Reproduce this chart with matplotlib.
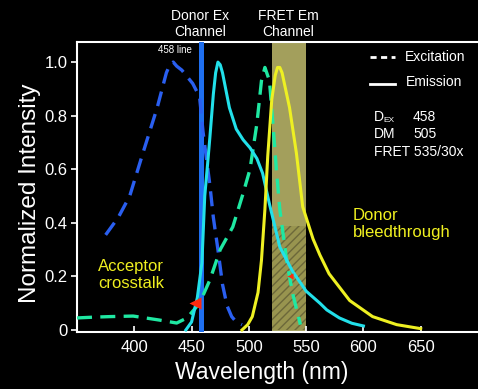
import matplotlib
matplotlib.use("Agg")
import matplotlib.pyplot as plt
from matplotlib.patches import Rectangle
from matplotlib.lines import Line2D

plt.rcParams['font.family'] = ['Liberation Sans', 'DejaVu Sans']

# Donor (CFP-like) excitation, dashed blue
donor_ex_nm = [375, 386, 396, 407.5, 420, 428, 431, 434, 437, 441.5, 451, 457, 460, 463, 466, 469, 473, 477, 481, 485, 489, 494]
donor_ex_val = [0.355, 0.42, 0.50, 0.66, 0.83, 0.96, 0.99, 1.0, 0.985, 0.97, 0.92, 0.87, 0.74, 0.64, 0.54, 0.42, 0.30, 0.17, 0.09, 0.05, 0.03, 0.02]

# Donor emission, solid cyan
donor_em_nm = [445, 450, 455, 459, 461.5, 464, 466, 469, 471, 473, 475, 477, 483, 489, 495, 501, 507, 512, 518, 527, 538, 550, 562, 568, 579, 590, 600]
donor_em_val = [0.0, 0.03, 0.12, 0.25, 0.50, 0.62, 0.72, 0.88, 0.96, 1.0, 0.99, 0.96, 0.83, 0.75, 0.71, 0.68, 0.64, 0.585, 0.47, 0.31, 0.22, 0.145, 0.10, 0.075, 0.045, 0.025, 0.015]

# Acceptor (YFP-like) excitation, dashed mint
acc_ex_nm = [350, 365, 379, 399, 422, 437, 446, 457, 466, 475, 486, 495, 501, 507, 511, 514, 518, 521, 524, 527, 533, 538, 545]
acc_ex_val = [0.045, 0.048, 0.05, 0.052, 0.037, 0.026, 0.045, 0.10, 0.187, 0.30, 0.385, 0.51, 0.60, 0.77, 0.93, 0.98, 0.93, 0.77, 0.60, 0.45, 0.26, 0.14, 0.02]

# Acceptor emission, solid yellow
acc_em_nm = [494, 499, 503, 508, 511, 514, 516.5, 520, 523, 525, 527, 529, 535.5, 541.5, 547, 556, 562, 570, 588, 608, 629, 650]
acc_em_val = [0.0, 0.02, 0.05, 0.14, 0.26, 0.45, 0.65, 0.86, 0.95, 0.98, 0.98, 0.96, 0.83, 0.66, 0.46, 0.34, 0.28, 0.21, 0.11, 0.05, 0.02, 0.005]

laser_line_nm = 458
fret_band = (520, 550)
hatch_top = 0.39
xticks = [400, 450, 500, 550, 600, 650]
yticks = [0, 0.2, 0.4, 0.6, 0.8, 1.0]
ytick_labels = ['0', '0.2', '0.4', '0.6', '0.8', '1.0']
crosstalk_mark = (453, 0.10)
bleed_mark = (536, 0.20)

W, H = 478, 389
fig = plt.figure(figsize=(W / 100, H / 100), dpi=100, facecolor='black')
ax = fig.add_axes([77 / W, (H - 332) / H, (W - 77) / W, (332 - 42) / H])
ax.set_facecolor('black')
ax.set_xlim(350, 700)
ax.set_ylim(-0.0075, 1.075)

# FRET emission channel band, lower part hatched
ax.axvspan(fret_band[0], fret_band[1], color='#a39f5c', lw=0, zorder=1)
ax.add_patch(Rectangle((fret_band[0], 0), fret_band[1] - fret_band[0], hatch_top,
                       facecolor='#98944f', edgecolor='#6c683a', hatch='////', lw=0, zorder=1.5))

# Laser line
ax.axvline(laser_line_nm, color='#1f6ff0', lw=3.6, zorder=3)

ax.plot(donor_ex_nm, donor_ex_val, color='#2a5ff0', lw=2.4, dashes=(4.5, 2.5), zorder=4)
ax.plot(acc_ex_nm, acc_ex_val, color='#1fe8a2', lw=2.4, dashes=(4.5, 2.5), zorder=4)
ax.plot(donor_em_nm, donor_em_val, color='#22e0ea', lw=2.2, zorder=5)
ax.plot(acc_em_nm, acc_em_val, color='#eef022', lw=2.2, zorder=5)

ax.plot(*crosstalk_mark, marker='<', color='#ff2a10', ms=8, mec='none', zorder=6)
ax.plot(*bleed_mark, marker='<', color='#ff2a10', ms=4.5, mec='none', zorder=6)

for side in ('left', 'top', 'bottom'):
    ax.spines[side].set_color('white')
    ax.spines[side].set_linewidth(1.5)
ax.spines['right'].set_visible(False)
ax.set_xticks(xticks)
ax.set_yticks(yticks)
ax.set_yticklabels(ytick_labels)
ax.tick_params(axis='x', direction='in', length=4, width=1.2, colors='white', labelsize=12, pad=6)
ax.tick_params(axis='y', direction='out', length=4, width=1.2, colors='white', labelsize=12, pad=3)

fig.text(30 / W, 1 - 193 / H, 'Normalized Intensity', color='white', fontsize=17.5,
         rotation=90, ha='center', va='center')
fig.text(262 / W, 1 - 373 / H, 'Wavelength (nm)', color='white', fontsize=16.5,
         ha='center', va='center')

fig.text(200 / W, 1 - 24 / H, 'Donor Ex\nChannel', color='white', fontsize=10,
         ha='center', va='center', linespacing=1.25)
fig.text(288 / W, 1 - 24 / H, 'FRET Em\nChannel', color='white', fontsize=10,
         ha='center', va='center', linespacing=1.25)
fig.text(175 / W, 1 - 50 / H, '458 line', color='white', fontsize=7, ha='center', va='center')

fig.text(353 / W, 1 - 224 / H, 'Donor\nbleedthrough', color='#f0f020', fontsize=12,
         ha='left', va='center', linespacing=1.15)
fig.text(98 / W, 1 - 275 / H, 'Acceptor\ncrosstalk', color='#f0f020', fontsize=12,
         ha='left', va='center', linespacing=1.15)

# Legend and filter set
fig.add_artist(Line2D([370 / W, 395 / W], [1 - 57 / H] * 2, color='white', lw=2, dashes=(2.2, 1.6)))
fig.add_artist(Line2D([370 / W, 395 / W], [1 - 84 / H] * 2, color='white', lw=2))
fig.text(405 / W, 1 - 57 / H, 'Excitation', color='white', fontsize=10, va='center')
fig.text(406 / W, 1 - 82 / H, 'Emission', color='white', fontsize=10, va='center')
fig.text(374 / W, 1 - 117 / H, 'D', color='white', fontsize=10, va='center')
fig.text(383 / W, 1 - 120 / H, 'EX', color='white', fontsize=6, va='center')
fig.text(413 / W, 1 - 117 / H, '458', color='white', fontsize=10, va='center')
fig.text(374 / W, 1 - 134 / H, 'DM', color='white', fontsize=10, va='center')
fig.text(413 / W, 1 - 134 / H, '505', color='white', fontsize=10, va='center')
fig.text(374 / W, 1 - 152 / H, 'FRET 535/30x', color='white', fontsize=10, va='center')

fig.savefig('out.png', dpi=100, facecolor='black')
